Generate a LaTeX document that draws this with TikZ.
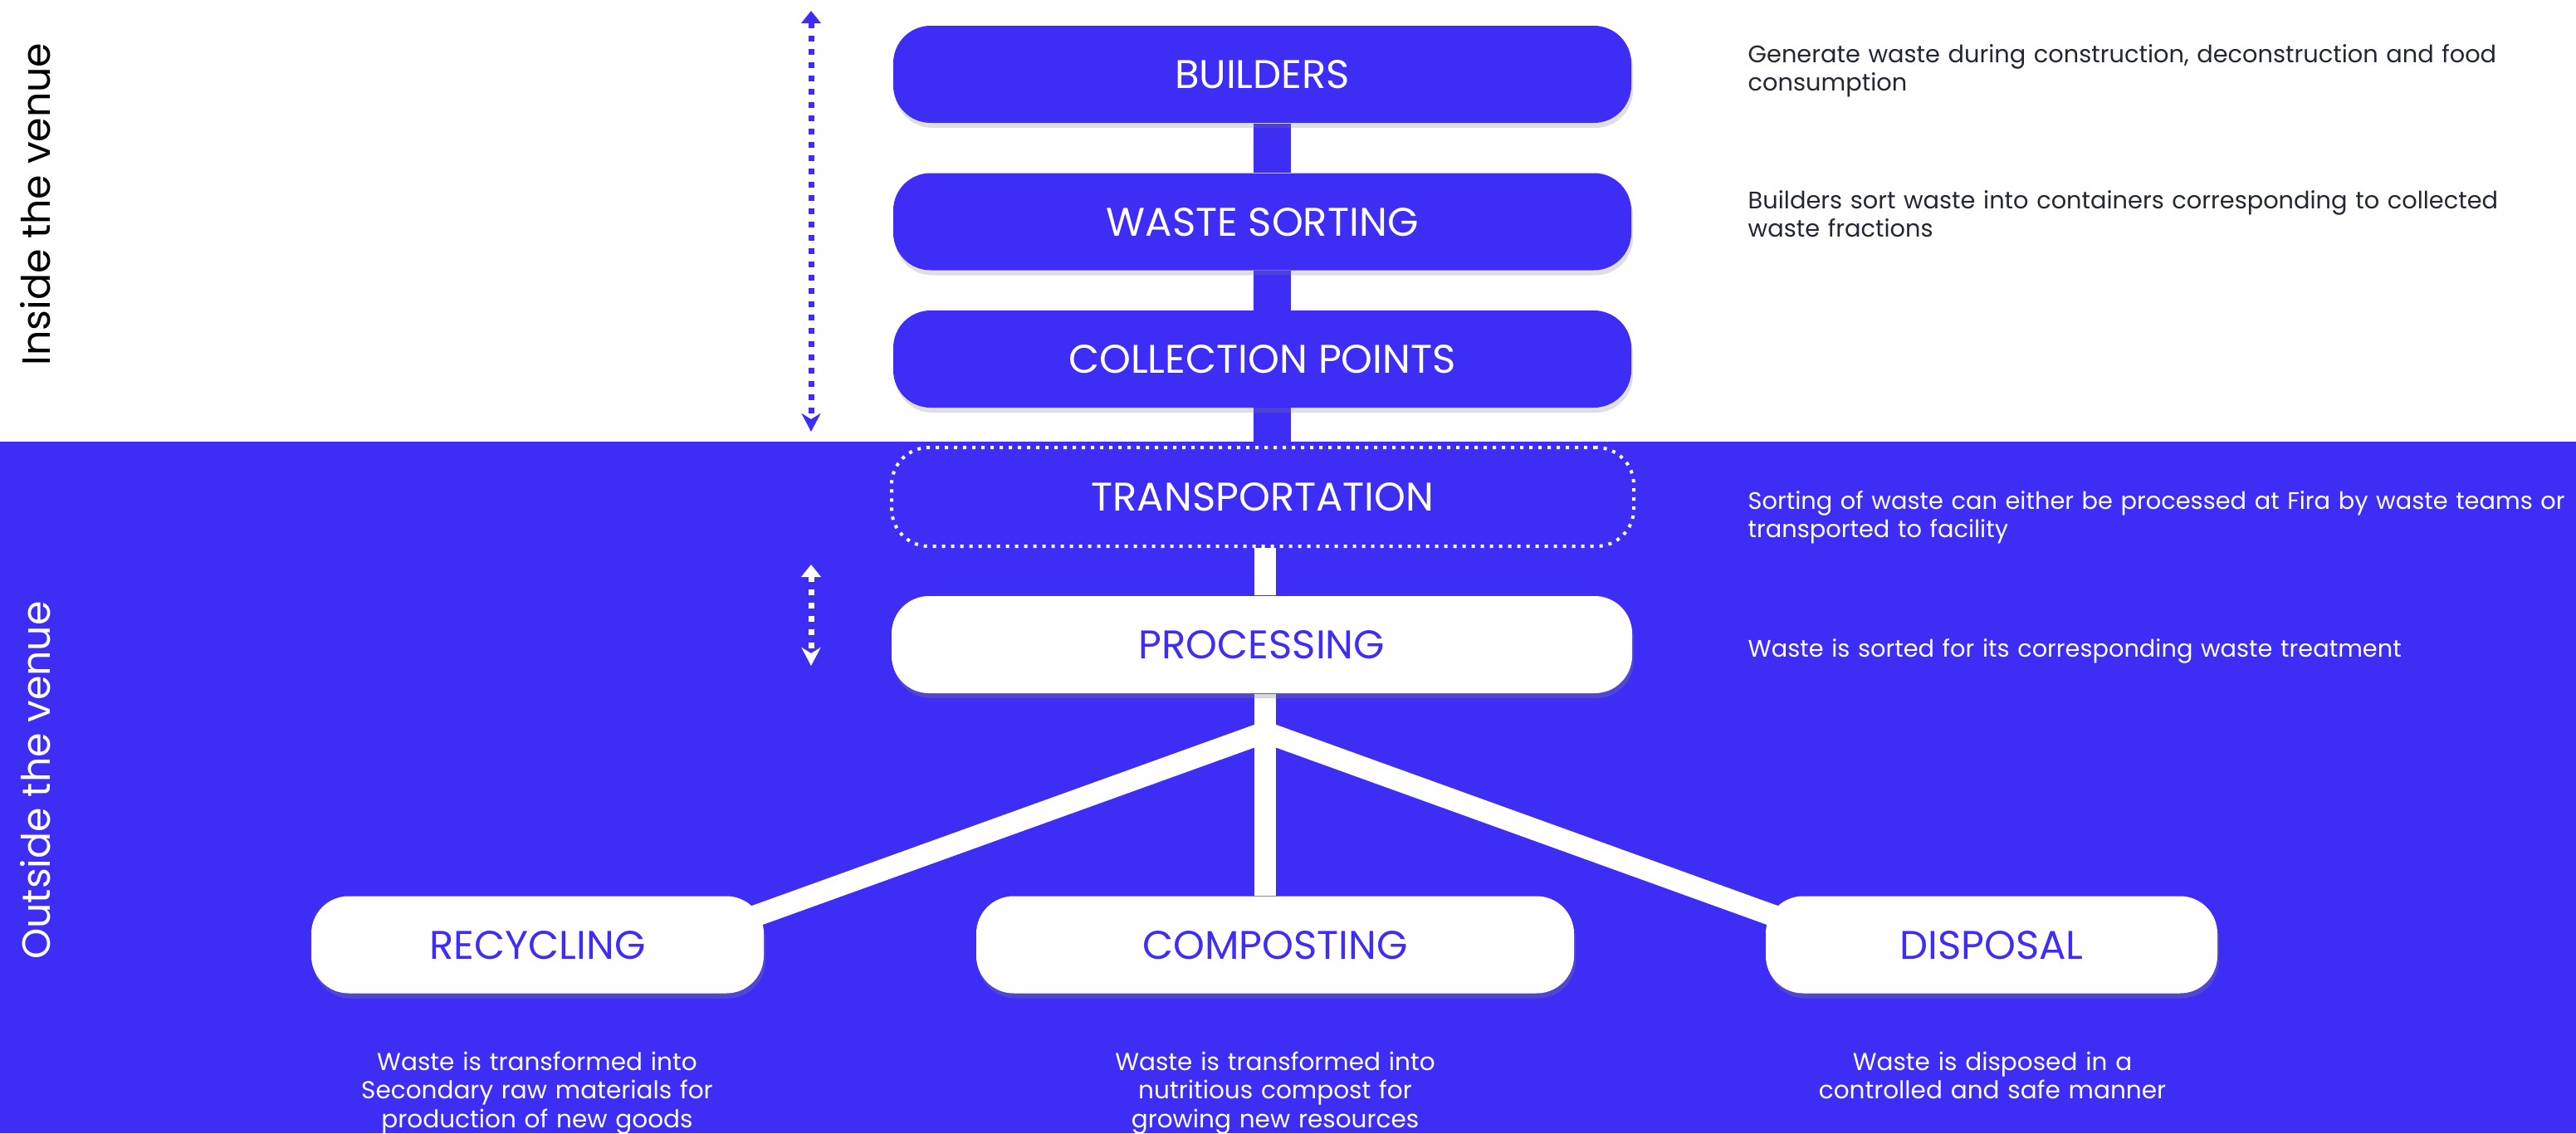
\documentclass[tikz,border=0pt]{standalone}
\usepackage{fontspec}
\setmainfont{Poppins}
\usetikzlibrary{arrows.meta,shadows,calc}
\definecolor{venueblue}{RGB}{61,45,245}
\definecolor{notegray}{RGB}{35,38,52}
\pgfdeclarelayer{back}
\pgfdeclarelayer{links}
\pgfsetlayers{back,links,main}
\tikzset{
	stagebox/.style={rectangle, rounded corners=0.45cm, minimum height=1.17cm, text depth=0pt, inner sep=0pt, font=\fontsize{13.7}{16}\selectfont},
	insidebox/.style={stagebox, fill=venueblue, text=white, minimum width=8.89cm, drop shadow={shadow xshift=0.02cm, shadow yshift=-0.06cm, opacity=0.25}},
	outsidebox/.style={stagebox, fill=white, text=venueblue, drop shadow={shadow xshift=0.02cm, shadow yshift=-0.06cm, opacity=0.3}},
	dottedbox/.style={stagebox, draw=white, line width=0.04cm, dash pattern=on 0.04cm off 0.07cm, text=white, minimum width=8.94cm, minimum height=1.19cm},
	stepnote/.style={anchor=base west, text width=9.9cm, align=left, inner sep=0pt, font=\fontsize{8.2}{9.7}\selectfont},
	outcome/.style={anchor=base, text width=6cm, align=center, inner sep=0pt, text=white, font=\fontsize{8.4}{9.9}\selectfont},
	bluelink/.style={draw=venueblue, line width=0.45cm},
	whitelink/.style={draw=white, line width=0.26cm},
	venuearrow/.style={line width=0.07cm, dash pattern=on 0.07cm off 0.09cm, {Triangle[length=0.15cm,width=0.23cm]}-{Stealth[length=0.22cm,width=0.23cm,inset=0.07cm]}},
	sidelabel/.style={rotate=90, anchor=base, inner sep=0pt, font=\fontsize{13.5}{16}\selectfont}
}

\begin{document}
\begin{tikzpicture}
			%%%%% START %%%%%
			
			\useasboundingbox (0, 0) rectangle (31.03, -13.65);
			\begin{pgfonlayer}{back}
				\fill[white] (0, 0) rectangle (31.03, -5.32);
				\fill[venueblue] (0, -5.32) rectangle (31.03, -13.65);
			\end{pgfonlayer}
			
			% stages inside the venue
			\node[insidebox] (builders) at (15.205, -0.895) {BUILDERS};
			\node[insidebox] (sorting) at (15.205, -2.67) {WASTE SORTING};
			\node[insidebox] (collection) at (15.205, -4.325) {COLLECTION POINTS};
			
			% stages outside the venue
			\node[dottedbox] (transport) at (15.21, -5.985) {TRANSPORTATION};
			\node[outsidebox, minimum width=8.92cm] (processing) at (15.2, -7.765) {PROCESSING};
			\node[outsidebox, minimum width=5.45cm] (recycling) at (6.475, -11.38) {RECYCLING};
			\node[outsidebox, minimum width=7.2cm] (composting) at (15.36, -11.38) {COMPOSTING};
			\node[outsidebox, minimum width=5.44cm] (disposal) at (23.99, -11.38) {DISPOSAL};
			
			\coordinate (bluex) at (15.325, 0);
			\coordinate (split) at (15.24, -8.82);
			
			\begin{pgfonlayer}{links}
				\draw[bluelink] (bluex |- builders.south) -- (bluex |- sorting.north);
				\draw[bluelink] (bluex |- sorting.south) -- (bluex |- collection.south);
				\draw[bluelink] (bluex |- collection.south) -- (bluex |- transport.north);
				\draw[whitelink] (split |- transport.south) -- (split |- processing.north);
				\draw[whitelink] (split |- processing.south) -- (split |- composting.north);
				\draw[whitelink, line join=miter] ([xshift=-0.4cm, yshift=-0.35cm]recycling.north east) -- (split) -- ([xshift=0.4cm, yshift=-0.35cm]disposal.north west);
			\end{pgfonlayer}
			
			% notes on the right
			\node[stepnote, text=notegray] (buildersnote) at (21.05, -0.75) {Generate waste during construction, deconstruction and food\\consumption};
			\node[stepnote, text=notegray] (sortingnote) at (21.05, -2.51) {Builders sort waste into containers corresponding to collected\\waste fractions};
			\node[stepnote, text=white] (transportnote) at (21.05, -6.13) {Sorting of waste can either be processed at Fira by waste teams or\\transported to facility};
			\node[stepnote, text=white] (processingnote) at (21.05, -7.91) {Waste is sorted for its corresponding waste treatment};
			
			% outcomes under the boxes
			\node[outcome] (recyclingnote) at (6.47, -12.89) {Waste is transformed into\\Secondary raw materials for\\production of new goods};
			\node[outcome] (compostingnote) at (15.36, -12.89) {Waste is transformed into\\nutritious compost for\\growing new resources};
			\node[outcome] (disposalnote) at (24.0, -12.89) {Waste is disposed in a\\controlled and safe manner};
			
			% venue ranges
			\coordinate (insidetop) at (9.77, -0.13);
			\coordinate (insidebottom) at (9.77, -5.20);
			\coordinate (outsidetop) at (9.77, -6.80);
			\coordinate (outsidebottom) at (9.77, -8.02);
			\draw[venuearrow, venueblue] (insidetop) -- (insidebottom);
			\draw[venuearrow, white] (outsidetop) -- (outsidebottom);
			
			\node[sidelabel, text=black] (inside) at (0.60, -2.46) {Inside the venue};
			\node[sidelabel, text=white] (outside) at (0.60, -9.40) {Outside the venue};
			
			%%%%% END %%%%%
\end{tikzpicture}
\end{document}
